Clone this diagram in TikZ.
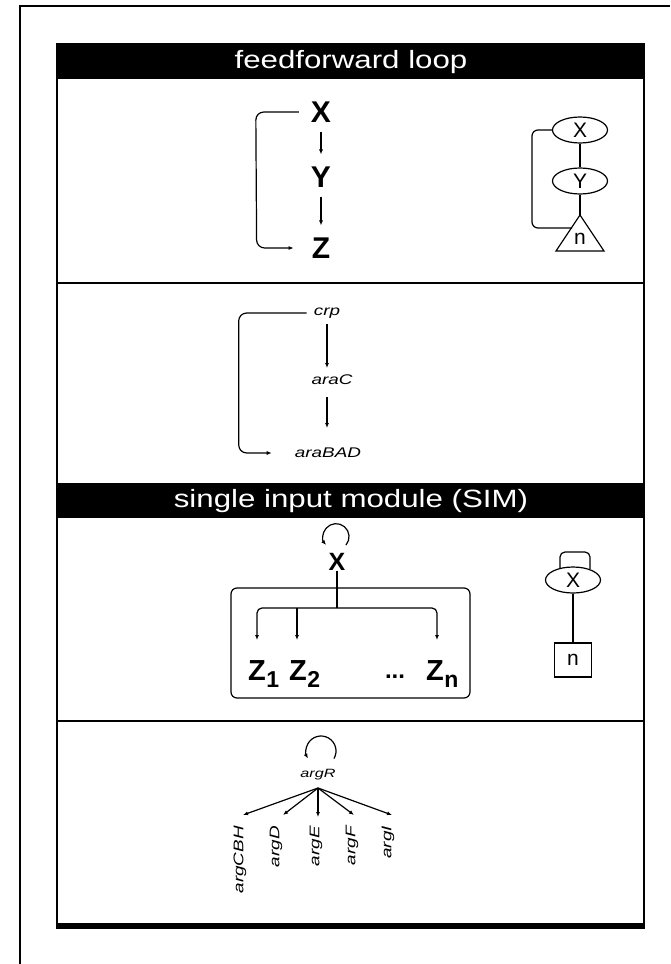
\documentclass[tikz,border=0pt]{standalone}
\usepackage{fontspec}
\setmainfont{Liberation Sans}
\newfontfamily\hdrfont[FakeStretch=1.25]{Liberation Sans}
\newfontfamily\genfont[FakeStretch=1.35]{Liberation Sans}
\usetikzlibrary{arrows.meta,shapes.geometric}
\begin{document}
\begin{tikzpicture}[x=1pt,y=-1pt,
  frame/.style={line width=2pt},
  hdr/.style={text=white,font=\hdrfont\fontsize{25}{28}\selectfont,inner sep=0pt},
  big/.style={font=\bfseries\fontsize{30}{32}\selectfont,inner sep=0pt},
  sbig/.style={font=\bfseries\fontsize{25}{28}\selectfont,inner sep=0pt},
  zb/.style={font=\bfseries\fontsize{29}{30}\selectfont,inner sep=0pt},
  zs/.style={font=\bfseries\fontsize{23}{24}\selectfont,inner sep=0pt},
  gene/.style={font=\genfont\itshape\fontsize{14}{16}\selectfont,inner sep=0pt},
  sgene/.style={font=\genfont\itshape\fontsize{12}{14}\selectfont,inner sep=0pt},
  conn/.style={line width=1.2pt},
  arr/.style={conn,-{Latex[length=5pt,width=4pt]}},
  ell/.style={draw,ellipse,line width=1.2pt,minimum width=55pt,minimum height=26pt,inner sep=0pt,font=\fontsize{21}{22}\selectfont},
]
\useasboundingbox (0,0) rectangle (670,964);
\fill[white] (0,0) rectangle (670,964);

% outer frame
\draw[frame] (20,964) -- (20,6) -- (670,6);

% inner frame, headers, dividers
\fill (57,43) rectangle (644,79);
\fill (57,483) rectangle (644,518);
\draw[line width=1.5pt] (57,43) -- (57,929) (644,43) -- (644,929);
\draw[line width=1.5pt] (57,283) -- (644,283);
\draw[line width=1.5pt] (57,721) -- (644,721);
\draw[line width=6pt] (56.25,926) -- (644.75,926);
\node[hdr] (h1) at (351,62) {feedforward loop};
\node[hdr] (h2) at (351,501) {single input module (SIM)};

% feedforward loop, abstract
\node[big] (X) at (321,112) {X};
\node[big] (Y) at (321,177) {Y};
\node[big] (Z) at (321,248) {Z};
\draw[arr,shorten <=9pt,shorten >=12pt] (X) -- (Y);
\draw[arr,shorten <=9pt,shorten >=12pt] (Y) -- (Z);
\draw[arr,rounded corners=8pt] ([xshift=-12pt]X.west) -- ++(-43,0) -- ([xshift=-55pt]Z.west) -- ([xshift=-18pt]Z.west);

% feedforward loop, graph
\node[ell] (X2) at (580,130) {X};
\node[ell] (Y2) at (580,181) {Y};
\coordinate (Tapex) at (580,215);
\coordinate (Tl) at (572,228);
\draw[conn] (Tapex) -- (604,251) -- (556,251) -- cycle;
\node[font=\fontsize{21}{22}\selectfont,inner sep=0pt] (n1) at (580,239) {n};
\draw[conn] (X2) -- (Y2);
\draw[conn] (Y2) -- (Tapex);
\draw[conn,rounded corners=6pt] (X2.west) -- (532,130) -- (532,228) -- (Tl);

% feedforward loop, example
\node[gene] (crp) at (327,313) {crp};
\node[gene] (araC) at (332,380) {araC};
\node[gene] (araBAD) at (328,453) {araBAD};
\draw[arr,shorten <=11pt,shorten >=12pt] (crp.center) -- (crp.center |- araC.center);
\draw[arr,shorten <=17pt,shorten >=25pt] (crp.center |- araC.center) -- (crp.center |- araBAD.center);
\draw[arr,rounded corners=8pt] ([xshift=-7pt]crp.west) -- ++(-68,0) -- ([xshift=-56pt]araBAD.west) -- ([xshift=-23pt]araBAD.west);

% SIM, abstract
\node[sbig] (X3) at (337,562) {X};
\draw[arr] (346,545) arc[start angle=-40,end angle=220,radius=13pt];
\node[draw,rounded corners=6pt,line width=1.2pt,minimum width=239pt,minimum height=110pt] (box) at (350.5,643) {};
\coordinate (bus) at (337,608);
\draw[conn] (X3) -- (bus);
\draw[arr,rounded corners=5pt] (bus) -- (257,608) -- (257,640);
\draw[arr,rounded corners=5pt] (bus) -- (437,608) -- (437,640);
\draw[arr] (297,608) -- (297,640);
\node[zb,anchor=base] (z1) at (257,680) {Z};
\node[zs,anchor=base west] (s1) at ([yshift=-7pt]z1.base east) {1};
\node[zb,anchor=base] (z2) at (298,680) {Z};
\node[zs,anchor=base west] (s2) at ([yshift=-7pt]z2.base east) {2};
\node[font=\bfseries\fontsize{24}{24}\selectfont,inner sep=0pt,anchor=base] (dots) at (395,678) {...};
\node[zb,anchor=base] (zn) at (435,680) {Z};
\node[zs,anchor=base west] (sn) at ([yshift=-7pt]zn.base east) {n};

% SIM, graph
\draw[conn,rounded corners=5pt] (560,569) -- (560,552) -- (590,552) -- (590,569);
\node[ell,fill=white] (X4) at (573,580) {X};
\node[draw,line width=1.2pt,minimum width=37pt,minimum height=34pt,inner sep=0pt,font=\fontsize{21}{22}\selectfont] (sq) at (573,660) {n};
\draw[conn] (X4) -- (sq);

% SIM, example
\node[sgene] (argR) at (318,775) {argR};
\draw[arr] (334,758.5) arc[start angle=-30,end angle=210,radius=15pt];
\coordinate (fan) at (318,788);
\node[gene,rotate=90,anchor=east] (g1) at (240,826) {argCBH};
\node[gene,rotate=90,anchor=east] (g2) at (276,826) {argD};
\node[gene,rotate=90,anchor=east] (g3) at (316,826) {argE};
\node[gene,rotate=90,anchor=east] (g4) at (352,826) {argF};
\node[gene,rotate=90,anchor=east] (g5) at (388,826) {argI};
\draw[arr] (fan) -- ([shift={(3pt,11pt)}]g1.east);
\draw[arr] (fan) -- ([shift={(7pt,11pt)}]g2.east);
\draw[arr] (fan) -- ([shift={(2pt,9pt)}]g3.east);
\draw[arr] (fan) -- ([shift={(2pt,11pt)}]g4.east);
\draw[arr] (fan) -- ([shift={(4pt,11pt)}]g5.east);
\end{tikzpicture}
\end{document}
